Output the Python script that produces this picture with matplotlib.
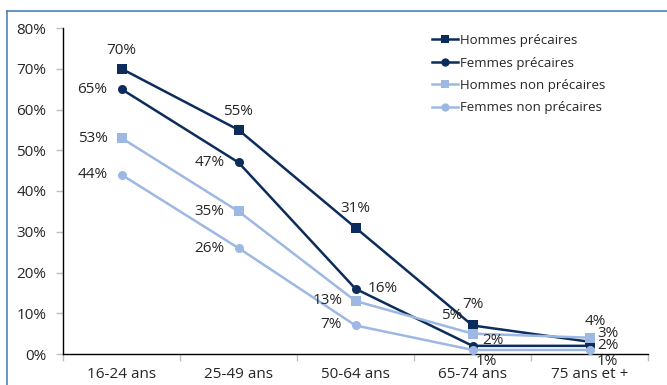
import matplotlib.pyplot as plt
from matplotlib.lines import Line2D

plt.rcParams['font.family'] = ['Open Sans', 'DejaVu Sans']

ages = ['16-24 ans', '25-49 ans', '50-64 ans', '65-74 ans', '75 ans et +']
hommes_prec = [70, 55, 31, 7, 3]
femmes_prec = [65, 47, 16, 2, 2]
hommes_non_prec = [53, 35, 13, 5, 4]
femmes_non_prec = [44, 26, 7, 1, 1]

dark = '#0c2c5c'
light = '#9db8e2'
txt = '#262626'

# label placement per point: (dx, dy) in points, horizontal alignment
lab_hp = [((0, 13), 'center'), ((0, 13), 'center'), ((0, 13.5), 'center'),
          ((0, 15), 'center'), ((5.5, 6.3), 'left')]
lab_fp = [((-10, 0), 'right'), ((-10, 0), 'right'), ((8.5, 0), 'left'),
          ((7, 3.5), 'left'), ((5.5, 0), 'left')]
lab_hnp = [((-10, 0), 'right'), ((-10, 0), 'right'), ((-9.5, 0.5), 'right'),
           ((-7, 13), 'right'), ((4, 12), 'center')]
lab_fnp = [((-10, 0), 'right'), ((-10, 0), 'right'), ((-10, 0.5), 'right'),
           ((10, -8.6), 'center'), ((12.5, -8.6), 'center')]

fig = plt.figure(figsize=(6.67, 3.85), dpi=100)
ax = fig.add_axes([63 / 667, 31 / 385, 585 / 667, 326 / 385])

x = list(range(len(ages)))
series = [
    (hommes_prec, 'Hommes précaires', dark, 's', 7.5, lab_hp),
    (femmes_prec, 'Femmes précaires', dark, 'o', 6.5, lab_fp),
    (hommes_non_prec, 'Hommes non précaires', light, 's', 7.5, lab_hnp),
    (femmes_non_prec, 'Femmes non précaires', light, 'o', 6.5, lab_fnp),
]

for vals, name, col, mk, ms, labs in series:
    ax.plot(x, vals, color=col, lw=1.8, marker=mk, markersize=ms,
            markeredgewidth=0, label=name, clip_on=False, zorder=3)
    for xi, v, ((dx, dy), ha) in zip(x, vals, labs):
        ax.annotate(f'{v}%', (xi, v), xytext=(dx, dy), textcoords='offset points',
                    ha=ha, va='center', fontsize=11, color=txt, zorder=4)

ax.set_xlim(-0.5, 4.5)
ax.set_ylim(0, 80)
ax.set_yticks(range(0, 81, 10))
ax.set_yticklabels([f'{t}%' for t in range(0, 81, 10)])
ax.set_xticks(x)
ax.set_xticklabels(ages)
ax.set_xticks([i + 0.5 for i in range(-1, 5)], minor=True)
ax.tick_params(axis='x', which='major', length=0, pad=9, labelsize=11, labelcolor=txt)
ax.tick_params(axis='x', which='minor', length=5, color='#bfbfbf', width=1)
ax.tick_params(axis='y', length=5, color='#bfbfbf', width=1, pad=7,
               labelsize=11, labelcolor=txt)

for s in ['top', 'right']:
    ax.spines[s].set_visible(False)
for s in ['left', 'bottom']:
    ax.spines[s].set_color('black')
    ax.spines[s].set_linewidth(1.0)

leg = ax.legend(loc='upper left', bbox_to_anchor=(432 / 667, 1 - 34 / 385),
                bbox_transform=fig.transFigure, frameon=False,
                fontsize=9.5, handlelength=2.0, handletextpad=0.15,
                labelspacing=0.72, borderpad=0, borderaxespad=0)
for h in leg.legend_handles:
    h.set_markersize(6)
for t in leg.get_texts():
    t.set_color(txt)

# outer frame around the chart
border = '#4f81b8'
fig.add_artist(Line2D([7 / 667, 1], [1 - 11 / 385, 1 - 11 / 385],
                      transform=fig.transFigure, color=border, lw=1.2))
fig.add_artist(Line2D([7 / 667, 7 / 667], [0, 1 - 11 / 385],
                      transform=fig.transFigure, color=border, lw=1.2))

fig.savefig('out.png', dpi=100)
